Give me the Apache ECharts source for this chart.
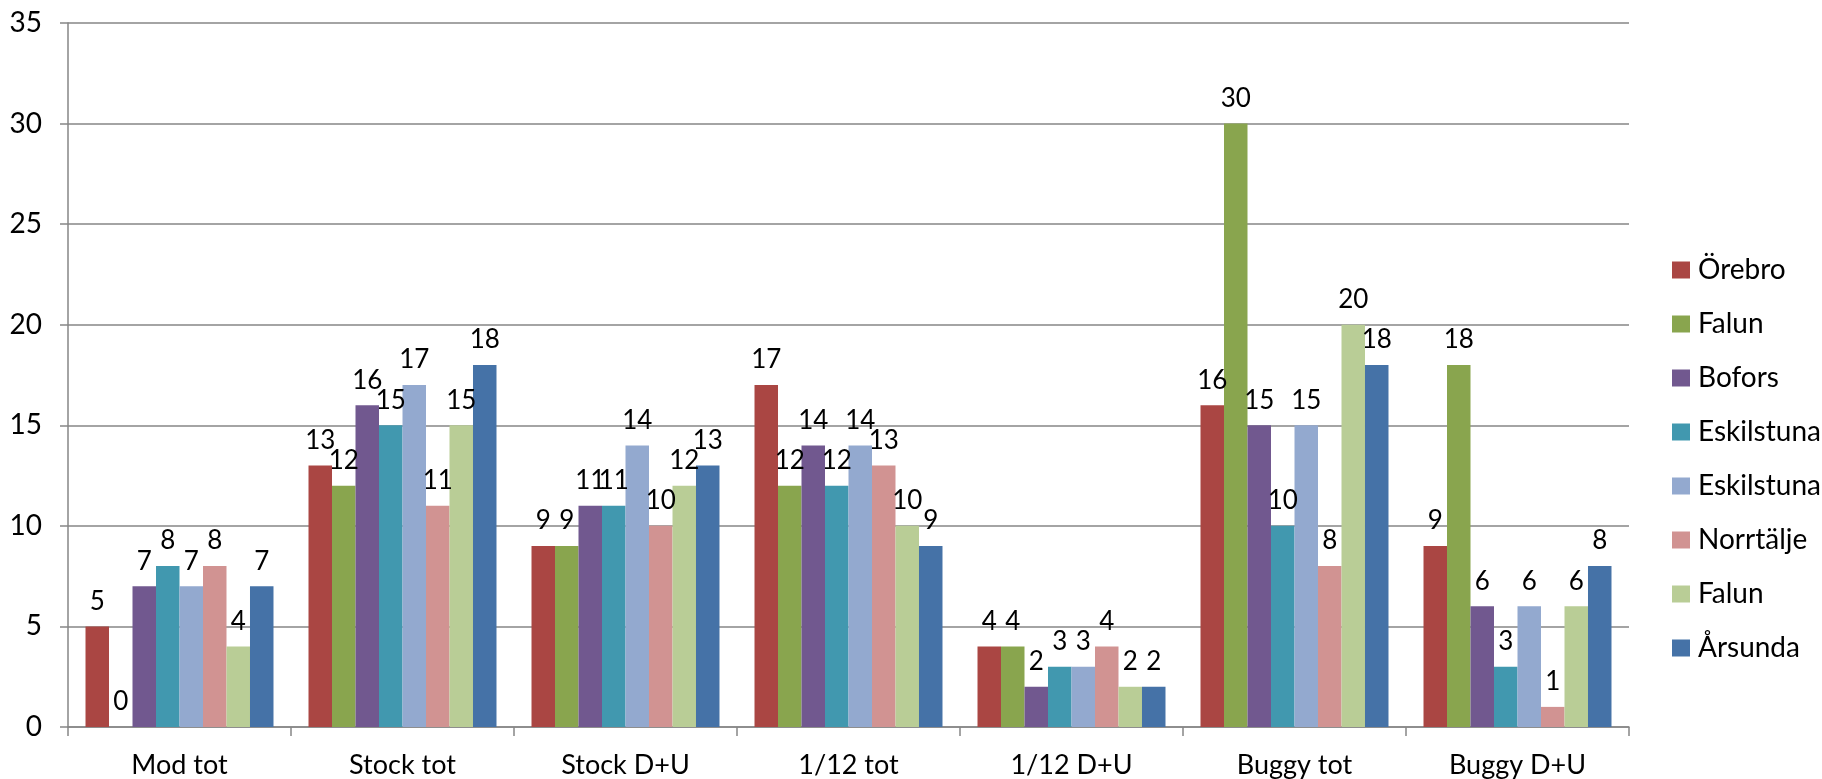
<!DOCTYPE html>
<html>
<head>
<meta charset="utf-8">
<script src="https://cdn.jsdelivr.net/npm/echarts@6/dist/echarts.min.js"></script>
<style>
html,body{margin:0;padding:0;background:#fff;}
#chart{width:1822px;height:779px;}
</style>
</head>
<body>
<div id="chart"></div>
<script>
const categories = ['Mod tot', 'Stock tot', 'Stock D+U', '1/12 tot', '1/12 D+U', 'Buggy tot', 'Buggy D+U'];
const seriesNames = ['Örebro', 'Falun', 'Bofors', 'Eskilstuna', 'Eskilstuna', 'Norrtälje', 'Falun', 'Årsunda'];
const orebro     = [5, 13, 9, 17, 4, 16, 9];
const falun      = [0, 12, 9, 12, 4, 30, 18];
const bofors     = [7, 16, 11, 14, 2, 15, 6];
const eskilstuna = [8, 15, 11, 12, 3, 10, 3];
const eskilstuna2= [7, 17, 14, 14, 3, 15, 6];
const norrtalje  = [8, 11, 10, 13, 4, 8, 1];
const falun2     = [4, 15, 12, 10, 2, 20, 6];
const arsunda    = [7, 18, 13, 9, 2, 18, 8];
const yTicks = { min: 0, max: 35, interval: 5 };

const colors = ['#AA4643', '#89A54E', '#71588F', '#4198AF', '#93A9CF', '#D19392', '#B9CD96', '#4572A7'];
const allValues = [orebro, falun, bofors, eskilstuna, eskilstuna2, norrtalje, falun2, arsunda];
const FONT = 'Lato';

const series = allValues.map((vals, i) => ({
  name: seriesNames[i] + '#' + i,
  type: 'bar',
  data: vals,
  barGap: '0%',
  barCategoryGap: '15.7%',
  itemStyle: { color: colors[i] },
  label: {
    show: true,
    position: 'top',
    distance: 12,
    color: '#000',
    fontFamily: FONT,
    fontSize: 26
  }
}));

const chart = echarts.init(document.getElementById('chart'), null, { renderer: 'canvas' });
chart.setOption({
  animation: false,
  backgroundColor: '#fff',
  grid: { left: 68, right: 193, top: 23, bottom: 51, containLabel: false },
  legend: {
    orient: 'vertical',
    left: 1667,
    top: 251,
    itemWidth: 18,
    itemHeight: 17,
    itemGap: 26,
    icon: 'rect',
    selectedMode: false,
    formatter: n => n.split('#')[0],
    textStyle: { color: '#000', fontFamily: FONT, fontSize: 28, padding: [0, 0, 0, 3] },
    data: series.map(s => s.name)
  },
  xAxis: {
    type: 'category',
    data: categories,
    axisLine: { lineStyle: { color: '#868686', width: 1.5 } },
    axisTick: { show: true, length: 9, lineStyle: { color: '#868686', width: 1.5 } },
    axisLabel: { color: '#000', fontFamily: FONT, fontSize: 27, margin: 25 }
  },
  yAxis: {
    type: 'value',
    min: yTicks.min,
    max: yTicks.max,
    interval: yTicks.interval,
    axisLine: { show: true, lineStyle: { color: '#868686', width: 1.5 } },
    axisTick: { show: true, length: 8, lineStyle: { color: '#868686', width: 1.5 } },
    axisLabel: { color: '#000', fontFamily: FONT, fontSize: 28, margin: 26 },
    splitLine: { lineStyle: { color: '#868686', width: 1.5 } }
  },
  series: series
});
</script>
</body>
</html>
